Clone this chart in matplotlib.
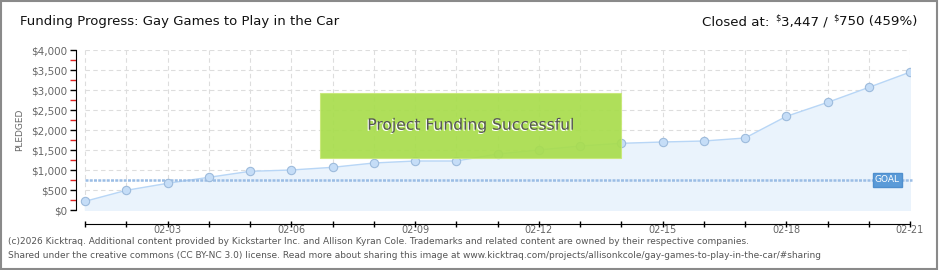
import numpy as np
import matplotlib
matplotlib.use('Agg')
import matplotlib.pyplot as plt
import matplotlib.patheffects as pe
from matplotlib.patches import Rectangle

# daily pledged totals, 02-01 .. 02-21
days = ['02-%02d' % d for d in range(1, 22)]
pledged = [217, 492, 667, 817, 967, 1000, 1067, 1175, 1225, 1225, 1400,
           1500, 1600, 1667, 1700, 1725, 1800, 2340, 2690, 3065, 3447]
goal = 750
yticks = list(range(0, 4001, 500))
ylabels = ['$%s' % format(v, ',') for v in yticks]
xlabel_every = 3

fig = plt.figure(figsize=(9.4, 2.7), dpi=100)
fig.patch.set_facecolor('white')
fig.patches.append(Rectangle((0.001, 0.002), 0.996, 0.994, transform=fig.transFigure,
                             fill=False, edgecolor='#8a8a8a', linewidth=1.5))

ax = fig.add_axes([76 / 940, 60 / 270, 834 / 940, 160 / 270])
x = np.arange(len(days))
ax.set_xlim(-9 / 41.25, len(days) - 1)
ax.set_ylim(0, 4000)

# grid
ax.hlines(yticks, 0, len(days) - 1, colors='#dddddd', linestyles=(0, (4, 3)), linewidth=0.8, zorder=0)
ax.vlines(x, 0, 4000, colors='#dddddd', linestyles=(0, (4, 3)), linewidth=0.8, zorder=0)

ax.fill_between(x, pledged, 0, color='#eaf3fc', zorder=1)
ax.plot(x, pledged, color='#b8d6f6', linewidth=1.0, zorder=2)
ax.plot(x, pledged, 'o', markersize=6, markerfacecolor='#c5ddf7',
        markeredgecolor='#9dbbdc', markeredgewidth=0.8, zorder=4)

# goal line
ax.plot([0, len(days) - 1 + 0.05], [goal, goal], color='#9bbde5', linewidth=1.8,
        dashes=(1.2, 0.5), zorder=3, clip_on=False)
ax.text(len(days) - 1.55, goal, 'GOAL', color='white', fontsize=6.5, ha='center', va='center',
        zorder=6, bbox=dict(boxstyle='square,pad=0.25', facecolor='#5b9bd8', edgecolor='#4f8fce'))

# success banner
ax.add_patch(Rectangle((5.7, 1308), 13 - 5.7, 2933 - 1308, facecolor='#a8dd4c',
                       edgecolor='#c8e878', linewidth=0.8, alpha=0.92, zorder=5))
ax.text((5.7 + 13) / 2, (1308 + 2933) / 2, 'Project Funding Successful', fontsize=11.2,
        color='#555555', ha='center', va='center', zorder=6,
        path_effects=[pe.withSimplePatchShadow(offset=(-0.8, -0.8), shadow_rgbFace='white', alpha=1.0)])

# axes styling
for s in ['top', 'right']:
    ax.spines[s].set_visible(False)
ax.spines['left'].set_color('black')
ax.spines['bottom'].set_position(('outward', 10))
ax.spines['bottom'].set_bounds(0, len(days) - 1)
ax.set_yticks(yticks)
ax.set_yticklabels(ylabels)
ax.set_yticks([v + 250 for v in yticks[:-1]], minor=True)
ax.tick_params(axis='y', which='major', length=4, width=1, colors='black', labelcolor='#666666',
               labelsize=7.5, pad=2)
ax.tick_params(axis='y', which='minor', length=4, width=1, colors='#dd2222')
ax.set_xticks(x)
ax.set_xticklabels([d if (i + 1) % xlabel_every == 0 else '' for i, d in enumerate(days)])
ax.tick_params(axis='x', length=4, direction='inout', width=1, labelcolor='#666666', labelsize=7, pad=-1)
ax.set_ylabel('PLEDGED', fontsize=6.5, color='#666666')
ax.yaxis.set_label_coords(-52 / 834, 0.5)

fig.text(20 / 940, 1 - 22 / 270, 'Funding Progress: Gay Games to Play in the Car',
         fontsize=9.5, color='#111111', va='center', ha='left')

# "Closed at:  $3,447 /  $750 (459%)" with small raised dollar signs
t1 = fig.text(702 / 940, 1 - 22 / 270, 'Closed at:', fontsize=9.6, color='#111111', va='center')
t2 = ax.annotate('$', xy=(1, 0.5), xycoords=(t1, t1), xytext=(4, 0), textcoords='offset points',
                 fontsize=6, color='#111111', va='bottom', annotation_clip=False)
t3 = ax.annotate('3,447 /', xy=(1, 0), xycoords=(t2, t1), xytext=(0.5, 0), textcoords='offset points',
                 fontsize=9.6, color='#111111', va='bottom', annotation_clip=False)
t4 = ax.annotate('$', xy=(1, 0.5), xycoords=(t3, t1), xytext=(4, 0), textcoords='offset points',
                 fontsize=6, color='#111111', va='bottom', annotation_clip=False)
t5 = ax.annotate('750 (459%)', xy=(1, 0), xycoords=(t4, t1), xytext=(0.5, 0), textcoords='offset points',
                 fontsize=9.6, color='#111111', va='bottom', annotation_clip=False)

foot_font = ['Liberation Sans Narrow', 'DejaVu Sans']
fig.text(8 / 940, 1 - 242 / 270,
         '(c)2026 Kicktraq. Additional content provided by Kickstarter Inc. and Allison Kyran Cole. '
         'Trademarks and related content are owned by their respective companies.',
         fontsize=6.5, color='#555555', va='center', family=foot_font)
fig.text(8 / 940, 1 - 256 / 270,
         'Shared under the creative commons (CC BY-NC 3.0) license. Read more about sharing this image at '
         'www.kicktraq.com/projects/allisonkcole/gay-games-to-play-in-the-car/#sharing',
         fontsize=6.5, color='#555555', va='center', family=foot_font)

fig.savefig('out.png', dpi=100)
